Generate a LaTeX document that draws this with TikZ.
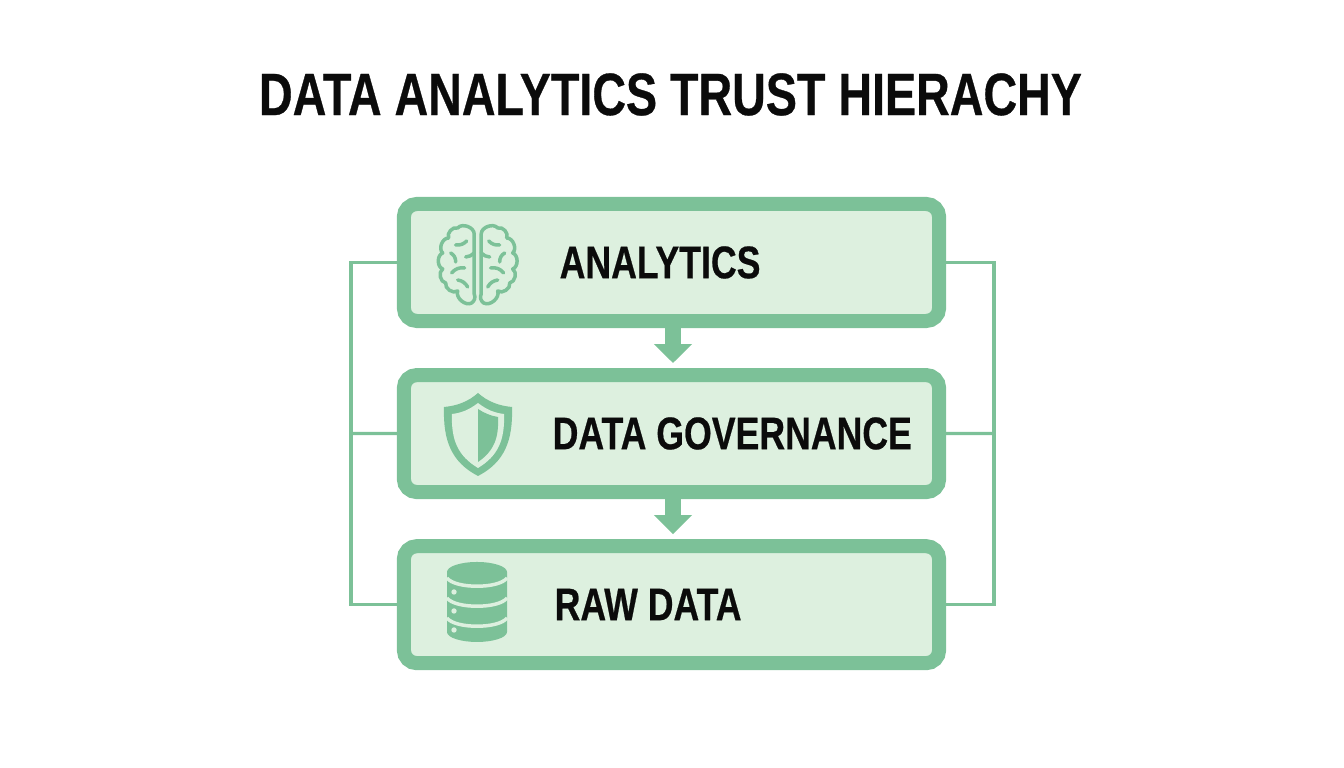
\documentclass[tikz,border=0pt]{standalone}
\usepackage{fontspec}
\setmainfont{Liberation Sans}[FakeStretch=0.78,BoldFeatures={FakeStretch=0.78,FakeBold=0.5}]
\usetikzlibrary{positioning, arrows.meta}
\definecolor{leaf}{HTML}{7CC198}
\definecolor{pale}{HTML}{DDF0DF}
\definecolor{ink}{HTML}{0B0B0B}
\tikzset{
  halfbrain/.pic={
    \draw[brainline] (-3.5,-28) to[bend right=70] (-20,-34) to[bend right=70] (-29,-24)
      to[bend right=70] (-35,-9) to[bend right=70] (-35,7) to[bend right=70] (-32,21)
      to[bend right=70] (-20,29) to[bend right=70] (-6,41) to[bend right=40] (-3.5,32) -- cycle;
    \draw[brainline] (-22,-17) to[bend right=25] (-11,-21);
    \draw[brainline] (-27,-9) to[bend left=30] (-22,0);
    \draw[brainline] (-26,11) to[bend left=30] (-13,6);
    \draw[brainline] (-20,18) to[bend left=25] (-10,25);
    \draw[brainline] (-3.5,-9) to[bend left=20] (-12,-5);
  }
}
\begin{document}
\begin{tikzpicture}[x=0.01cm,y=-0.01cm,
  every node/.style={text=ink,font=\bfseries},
  tier/.style={draw=leaf,fill=pale,line width=0.14cm,rounded corners=0.13cm,
    minimum width=5.35cm,minimum height=1.17cm,inner sep=0pt},
  tierlabel/.style={anchor=west,inner sep=0pt,font=\fontsize{13}{16}\selectfont\bfseries},
  rail/.style={draw=leaf,line width=0.033cm},
  flowarrow/.style={draw=leaf,line width=0.16cm,-{Triangle[width=0.37cm,length=0.19cm]}},
  brainline/.style={draw=leaf,line width=0.035cm,line cap=round,line join=round}]
\useasboundingbox (0,0) rectangle (1344,768);
\node[inner sep=0pt,font=\fontsize{17}{22}\selectfont\bfseries] (title) at (670.5,94.5) {DATA ANALYTICS TRUST HIERACHY};
% tiers
\node[tier] (analytics) at (671.5,262.5) {};
\node[tier,below=0.4cm of analytics] (governance) {};
\node[tier,below=0.4cm of governance] (rawdata) {};
\node[tierlabel] (analyticslabel) at (559,262.5) {ANALYTICS};
\node[tierlabel] (governancelabel) at (552,433.5) {DATA GOVERNANCE};
\node[tierlabel] (rawdatalabel) at (554,604.5) {RAW DATA};
% arrows between tiers
\draw[flowarrow] ([xshift=0.015cm]analytics.south) -- ([xshift=0.015cm,yshift=0.05cm]governance.north);
\draw[flowarrow] ([xshift=0.015cm]governance.south) -- ([xshift=0.015cm,yshift=0.05cm]rawdata.north);
% side rails
\coordinate (railwest) at (351,433.5);
\coordinate (raileast) at (994,433.5);
\draw[rail] (analytics.west) -- (analytics.west -| railwest) -- (rawdata.west -| railwest) -- (rawdata.west);
\draw[rail] (governance.west) -- (railwest);
\draw[rail] (analytics.east) -- (analytics.east -| raileast) -- (rawdata.east -| raileast) -- (rawdata.east);
\draw[rail] (governance.east) -- (raileast);
% brain
\pic at (477.7,262) {halfbrain};
\pic[xscale=-1] at (477.7,262) {halfbrain};
% shield
\fill[leaf] (478,393) .. controls (488,402) and (500,406) .. (512,407) .. controls (513,440) and (505,462) .. (478,476)
  .. controls (451,462) and (443,440) .. (444,407) .. controls (456,406) and (468,402) .. (478,393) -- cycle;
\fill[pale] (478,403) .. controls (487,410) and (495,413) .. (504,414) .. controls (505,440) and (498,456) .. (478,468)
  .. controls (458,456) and (451,440) .. (452,414) .. controls (461,413) and (469,410) .. (478,403) -- cycle;
\fill[leaf] (478,409) .. controls (484,413) and (491,416) .. (498,417) .. controls (499,438) and (494,451) .. (478,462) -- cycle;
% database
\fill[leaf] (447,572) arc[x radius=30,y radius=10,start angle=180,end angle=360]
  -- (507,632) .. controls (507,638) and (492,642) .. (477,642) .. controls (462,642) and (447,638) .. (447,632) -- cycle;
\foreach \ytop in {578,598,618}
  \draw[pale,line width=0.035cm] (447,\ytop) .. controls (455,\ytop+11) and (499,\ytop+11) .. (507,\ytop);
\foreach \ydot in {592,611,630}
  \fill[pale] (454,\ydot) circle[radius=0.027cm];
\end{tikzpicture}
\end{document}
